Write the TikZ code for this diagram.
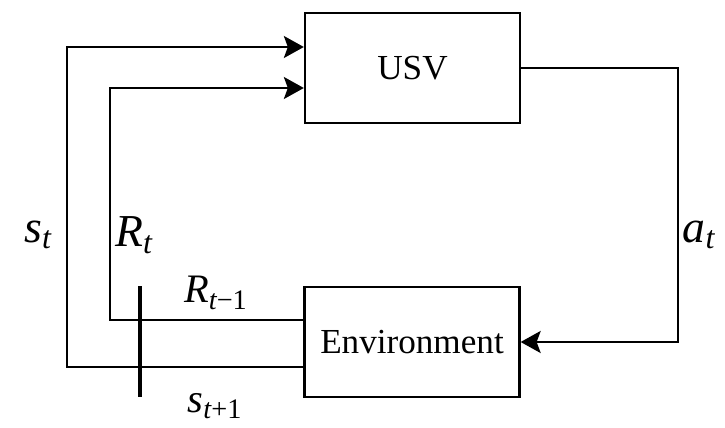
\documentclass[tikz,border=0pt]{standalone}
\usepackage{fontspec}
\setmainfont{Liberation Serif}
\usetikzlibrary{arrows.meta,positioning}
\newcommand{\sym}[2]{\textit{#1}\textsubscript{#2}}
\begin{document}
\begin{tikzpicture}[font=\fontsize{20}{24}\selectfont,
  line width=1.3pt,
  box/.style={draw,minimum width=4.3cm,minimum height=2.2cm,inner sep=0pt},
  arr/.style={-{Stealth[length=4mm,width=4.4mm,inset=0.8mm]}},
  bar/.style={line width=2.6pt},
  big/.style={font=\fontsize{26}{30}\selectfont},
  mid/.style={font=\fontsize{23}{26}\selectfont}]
  \useasboundingbox (0,0) rectangle (14.5,8.54);
  \node[box] (usv) at (8.25,7.18) {USV};
  \node[box] (env) at (8.24,1.70) {Environment};
  % corner points of the loops
  \coordinate (sout) at ([yshift=-0.5cm]env.west);
  \coordinate (rout) at ([yshift=0.44cm]env.west);
  \coordinate (sin) at ([yshift=0.42cm]usv.west);
  \coordinate (rin) at ([yshift=-0.40cm]usv.west);
  \coordinate (sx) at (1.34,0);
  \coordinate (rx) at (2.2,0);
  \coordinate (ax) at (13.56,0);
  \draw[arr] (usv.east) -- (usv.east -| ax) -- (env.east -| ax) -- (env.east);
  \draw[arr] (sout) -- (sout -| sx) -- (sin -| sx) -- (sin);
  \draw[arr] (rout) -- (rout -| rx) -- (rin -| rx) -- (rin);
  \coordinate (bartop) at (2.8,2.82);
  \coordinate (barbot) at (2.8,0.6);
  \draw[bar] (bartop) -- (barbot);
  % labels
  \node[big] (st) at (0.76,3.84) {\sym{s}{\itshape t}};
  \node[big] (rt) at (2.68,3.84) {\sym{R}{\itshape t}};
  \node[big] (at) at (13.98,3.84) {\sym{a}{\itshape t}};
  \node[mid] (rtm) at (4.32,2.68) {\sym{R}{\itshape t\upshape −1}};
  \node[mid] (stp) at (4.3,0.42) {\sym{s}{\itshape t\upshape +1}};
\end{tikzpicture}
\end{document}
